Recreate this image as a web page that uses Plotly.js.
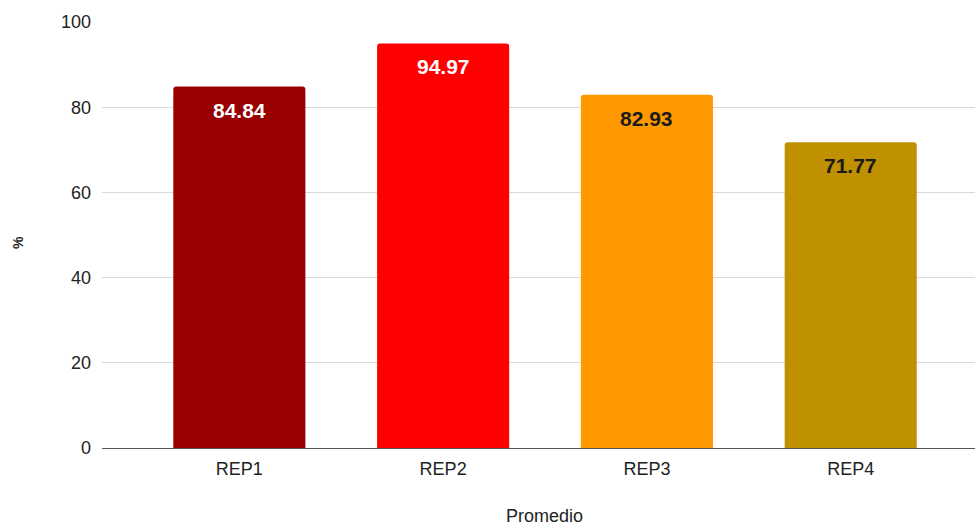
<!DOCTYPE html>
<html>
<head>
<meta charset="utf-8">
<script src="https://cdn.plot.ly/plotly-3.0.1.min.js"></script>
<style>
  html, body { margin: 0; padding: 0; background: #fff; overflow: hidden; }
  #chart { width: 975px; height: 525px; }
</style>
</head>
<body>
<div id="chart"></div>
<script>
// Average percentage per repetition
const categories = ["REP1", "REP2", "REP3", "REP4"];
const values = [84.84, 94.97, 82.93, 71.77];
const barColors = ["#990000", "#ff0000", "#ff9900", "#bf9000"];
const labelColors = ["#ffffff", "#ffffff", "#1a1a1a", "#1a1a1a"];
const yTicks = [0, 20, 40, 60, 80, 100];

const FONT = "Liberation Sans, Arial, sans-serif";

const trace = {
  type: "bar",
  x: categories,
  y: values,
  width: 0.648,
  marker: { color: barColors, cornerradius: 3, line: { width: 0 } },
  hoverinfo: "x+y"
};

// value labels sitting just inside the top of each bar
const valueLabels = categories.map((c, i) => ({
  x: c,
  y: values[i],
  xref: "x",
  yref: "y",
  text: "<b>" + values[i].toFixed(2) + "</b>",
  showarrow: false,
  yanchor: "top",
  yshift: -10,
  font: { family: FONT, size: 21, color: labelColors[i] }
}));

// axis titles
const axisTitles = [
  {
    text: "Promedio",
    xref: "paper",
    yref: "paper",
    x: 0.5074,
    y: 0,
    yanchor: "middle",
    yshift: -68,
    showarrow: false,
    font: { family: FONT, size: 18, color: "#222222" }
  },
  {
    text: "<b>%</b>",
    xref: "paper",
    yref: "paper",
    x: 0,
    y: 0.5,
    xanchor: "center",
    yanchor: "middle",
    xshift: -84,
    yshift: -8,
    textangle: -90,
    showarrow: false,
    font: { family: FONT, size: 14, color: "#222222" }
  }
];

const layout = {
  width: 975,
  height: 525,
  margin: { l: 102, r: 0, t: 22, b: 77, pad: 0 },
  paper_bgcolor: "#ffffff",
  plot_bgcolor: "#ffffff",
  showlegend: false,
  font: { family: FONT, color: "#444444" },
  xaxis: {
    type: "category",
    range: [-0.674, 3.610],
    showgrid: false,
    zeroline: false,
    showline: false,
    ticks: "",
    ticklabelstandoff: 8,
    tickfont: { family: FONT, size: 18, color: "#222222" },
    fixedrange: true
  },
  yaxis: {
    range: [0, 100],
    tickvals: yTicks,
    ticktext: yTicks.map(String),
    showgrid: true,
    gridcolor: "#d9d9d9",
    gridwidth: 1,
    zeroline: true,
    zerolinecolor: "#555555",
    zerolinewidth: 1,
    showline: false,
    ticks: "",
    ticklabelstandoff: 10,
    tickfont: { family: FONT, size: 18, color: "#222222" },
    fixedrange: true
  },
  annotations: valueLabels.concat(axisTitles)
};

Plotly.newPlot("chart", [trace], layout, { displayModeBar: false, staticPlot: true });
</script>
</body>
</html>
